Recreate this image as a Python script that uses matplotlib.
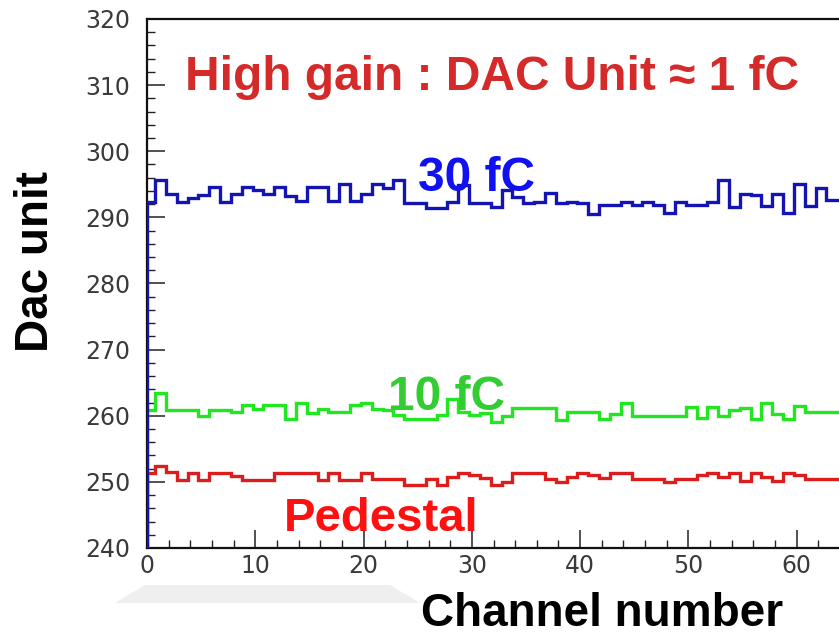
import numpy as np
import matplotlib
matplotlib.use('Agg')
from matplotlib import pyplot as plt
from matplotlib.ticker import MultipleLocator
from matplotlib.patches import Polygon

# channel numbers 0..63, one DAC value per channel
channels = np.arange(64)

pedestal = [251.3, 252.4, 251.5, 250.3, 251.3, 250.3, 251.3, 251.3, 250.9, 250.3,
            250.3, 250.3, 251.3, 251.3, 251.3, 251.3, 250.3, 251.3, 250.3, 250.3,
            251.3, 250.5, 250.5, 250.5, 249.5, 249.5, 250.5, 249.5, 250.7, 251.3,
            251.0, 250.6, 249.6, 250.0, 251.3, 251.3, 251.3, 250.5, 250.0, 250.8,
            251.3, 251.0, 250.6, 251.3, 251.3, 250.5, 250.5, 250.5, 250.0, 250.5,
            250.5, 251.0, 251.3, 250.7, 251.3, 250.2, 251.3, 250.7, 250.2, 251.3,
            251.0, 250.5, 250.5, 250.5]

q10fc = [260.9, 263.4, 260.9, 260.9, 260.9, 259.9, 260.9, 260.9, 260.5, 261.6,
         261.0, 261.6, 261.6, 259.5, 262.0, 260.4, 261.0, 260.5, 260.5, 261.6,
         262.0, 261.0, 260.9, 260.1, 259.5, 259.5, 259.5, 260.1, 262.5, 260.5,
         260.1, 260.4, 259.1, 259.9, 261.1, 261.1, 261.1, 261.1, 259.4, 260.5,
         260.5, 260.5, 259.5, 260.3, 262.0, 260.0, 260.0, 260.0, 260.0, 260.0,
         261.3, 259.7, 261.3, 260.0, 260.8, 261.1, 259.5, 262.0, 260.3, 259.5,
         261.5, 260.5, 260.5, 260.5]

q30fc = [292.4, 295.6, 293.6, 292.4, 292.9, 293.4, 294.6, 292.4, 293.6, 294.6,
         294.1, 293.6, 294.6, 293.3, 292.5, 294.6, 294.6, 292.5, 295.0, 292.5,
         293.6, 295.0, 294.4, 295.6, 292.1, 292.1, 291.4, 291.4, 292.4, 294.9,
         292.1, 292.1, 291.5, 294.1, 293.1, 292.1, 292.4, 293.7, 292.1, 292.4,
         292.1, 290.5, 291.9, 291.9, 292.4, 291.9, 292.4, 291.9, 290.6, 292.4,
         291.9, 291.9, 292.4, 295.6, 291.6, 293.6, 293.4, 291.7, 293.6, 290.6,
         295.0, 291.7, 294.4, 292.6]

W, H = 839, 637
fig = plt.figure(figsize=(W / 100, H / 100), dpi=100)
ax = fig.add_axes([147 / W, 1 - 548 / H, 693 / W, 529 / H])

edges = np.concatenate([[0], channels[1:] - 0.25, [64]])
ax.stairs(pedestal, edges, baseline=240, color='#dd1c1c', lw=2.4, zorder=3)
ax.stairs(q10fc, edges, baseline=240, color='#22e622', lw=2.4, zorder=4)
ax.stairs(q30fc, edges, baseline=240, color='#1414b4', lw=2.4, zorder=5)

ax.set_xlim(0, 64)
ax.set_ylim(240, 320)
ax.xaxis.set_major_locator(MultipleLocator(10))
ax.xaxis.set_minor_locator(MultipleLocator(2))
ax.yaxis.set_major_locator(MultipleLocator(10))
ax.yaxis.set_minor_locator(MultipleLocator(2))
ax.tick_params(which='major', direction='in', length=13, width=1.1, colors='#222222',
               labelcolor='#3a3a3a', labelsize=17)
ax.tick_params(which='minor', direction='in', length=6, width=1.0, colors='#222222')
ax.tick_params(axis='y', which='both', pad=12)
ax.tick_params(axis='x', which='both', pad=4)
for s in ax.spines.values():
    s.set_linewidth(1.6)
    s.set_color('#111111')
ax.spines['right'].set_visible(False)

bold = dict(family='Liberation Sans', weight='bold')
fig.text(492 / W, 1 - 90 / H, 'High gain : DAC Unit \u2248 1 fC', color='#d42a2a',
         fontsize=34.5, ha='center', va='baseline', **bold)
fig.text(477 / W, 1 - 191 / H, '30 fC', color='#1010f0', fontsize=34.5,
         ha='center', va='baseline', zorder=6, **bold)
fig.text(447 / W, 1 - 410 / H, '10 fC', color='#33cc33', fontsize=34.5,
         ha='center', va='baseline', zorder=6, **bold)
fig.text(381 / W, 1 - 531 / H, 'Pedestal', color='#ff1010', fontsize=34,
         ha='center', va='baseline', **bold)
fig.text(36 / W, 1 - 261 / H, 'Dac unit', color='black', fontsize=33, rotation=90,
         ha='center', va='center', **bold)
fig.text(602 / W, 1 - 626 / H, 'Channel number', color='black', fontsize=33,
         ha='center', va='baseline', **bold)

# faint grey smudge under the axis, left over from the slide
fig.patches.append(Polygon([(115 / W, 1 - 603 / H), (145 / W, 1 - 585 / H),
                            (390 / W, 1 - 585 / H), (420 / W, 1 - 603 / H)],
                           closed=True, transform=fig.transFigure,
                           facecolor='#efefef', edgecolor='none', zorder=0))

fig.savefig('out.png', dpi=100)
